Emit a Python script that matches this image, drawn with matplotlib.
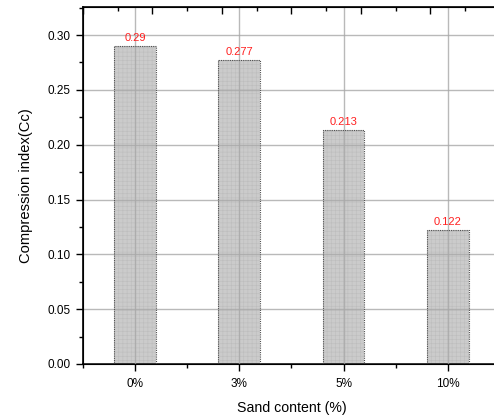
import matplotlib
matplotlib.use("Agg")
import matplotlib.pyplot as plt
from matplotlib.ticker import MultipleLocator, FormatStrFormatter

categories = ["0%", "3%", "5%", "10%"]
cc_values = [0.29, 0.277, 0.213, 0.122]
value_labels = ["0.29", "0.277", "0.213", "0.122"]

plt.rcParams["font.family"] = ["Liberation Sans", "DejaVu Sans"]
plt.rcParams["hatch.linewidth"] = 0.4

fig = plt.figure(figsize=(4.94, 4.16), dpi=100)
ax = fig.add_axes([0.168, 0.125, 0.844, 0.858])

x = list(range(len(categories)))

# fine hatched fill, then dotted outline on top
ax.bar(x, cc_values, width=0.4, color="#cbcbcb", edgecolor="#bdbdbd",
       linewidth=0, hatch="++++", zorder=2)
ax.bar(x, cc_values, width=0.4, fill=False, edgecolor="#505050",
       linewidth=0.8, linestyle=(0, (1, 1)), zorder=3)

for xi, v, lab in zip(x, cc_values, value_labels):
    ax.text(xi, v + 0.003, lab, color="#ff2020", fontsize=8,
            ha="center", va="bottom", zorder=5)

ax.set_xlim(-0.5, 3.5)
ax.set_ylim(0, 0.3255)
ax.set_xticks(x)
ax.set_xticklabels(categories)
ax.xaxis.set_minor_locator(MultipleLocator(0.5))
ax.yaxis.set_major_locator(MultipleLocator(0.05))
ax.yaxis.set_minor_locator(MultipleLocator(0.025))
ax.yaxis.set_major_formatter(FormatStrFormatter("%.2f"))

ax.grid(True, which="major", color="#a8a8a8", linewidth=1.0, alpha=0.8, zorder=4)
ax.set_axisbelow(False)

ax.tick_params(which="major", direction="out", length=5, width=1, labelsize=8.5,
               color="black", pad=4)
ax.tick_params(axis="x", which="major", pad=5)
ax.tick_params(which="minor", direction="out", length=3, width=1, color="black")

for side in ["left", "bottom", "top"]:
    ax.spines[side].set_linewidth(1.2)
ax.spines["right"].set_visible(False)

# top axis ticks (no labels)
top = ax.twiny()
top.set_xlim(0, 6)
top.xaxis.set_major_locator(MultipleLocator(1))
top.xaxis.set_minor_locator(MultipleLocator(0.5))
top.tick_params(which="major", direction="in", length=5, width=1, labeltop=False)
top.tick_params(which="minor", direction="in", length=3, width=1)
top.spines["right"].set_visible(False)

ax.set_xlabel("Sand content (%)", fontsize=10.2, labelpad=8)
ax.set_ylabel("Compression index(Cc)", fontsize=10.6, labelpad=10)

fig.savefig("out.png", dpi=100)
